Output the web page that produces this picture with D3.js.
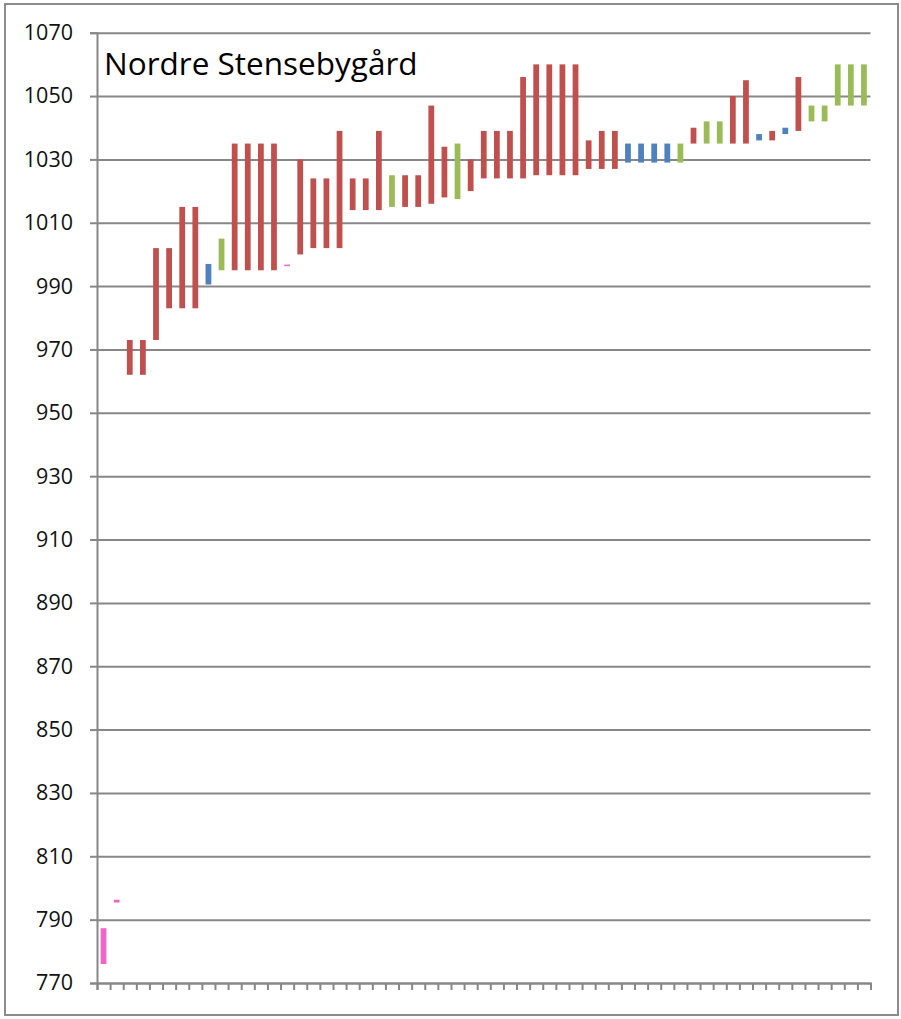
<!DOCTYPE html>
<html>
<head>
<meta charset="utf-8">
<script src="https://cdn.jsdelivr.net/npm/d3@7"></script>
<style>
  body { margin: 0; background: #fff; }
  svg text { font-family: "Open Sans", "Noto Sans", sans-serif; }
</style>
</head>
<body>
<div id="chart"></div>
<script>
// data: one floating bar per category (low .. high), coloured by series
var categories = d3.range(1, 60);
var lows  = [776, 795.4, 962, 962, 973, 983, 983, 983, 990.5, 995,
             995, 995, 995, 995, 996.3, 1000, 1002, 1002, 1002, 1014,
             1014, 1014, 1015, 1015, 1015, 1016, 1018, 1017.5, 1020, 1024,
             1024, 1024, 1024, 1025, 1025, 1025, 1025, 1027, 1027, 1027,
             1029, 1029, 1029, 1029, 1029, 1035, 1035, 1035, 1035, 1035,
             1036, 1036, 1038, 1039, 1042, 1042, 1047, 1047, 1047];
var highs = [787.3, 796.3, 973, 973, 1002, 1002, 1015, 1015, 997, 1005,
             1035, 1035, 1035, 1035, 996.8, 1030, 1024, 1024, 1039, 1024,
             1024, 1039, 1025, 1025, 1025, 1047, 1034, 1035, 1030, 1039,
             1039, 1039, 1056, 1060, 1060, 1060, 1060, 1036, 1039, 1039,
             1035, 1035, 1035, 1035, 1035, 1040, 1042, 1042, 1050, 1055,
             1038, 1039, 1040, 1056, 1047, 1047, 1060, 1060, 1060];
var series = ['p','p','r','r','r','r','r','r','b','g',
              'r','r','r','r','p','r','r','r','r','r',
              'r','r','g','r','r','r','r','g','r','r',
              'r','r','r','r','r','r','r','r','r','r',
              'b','b','b','b','g','r','g','g','r','r',
              'b','r','b','r','g','g','g','g','g'];
var series_colors = { r: '#C0504D', g: '#9BBB59', b: '#4F81BD', p: '#F066C8' };
var y_ticks = d3.range(770, 1071, 20);
var title = 'Nordre Stensebygård';

// SVG properties
var width = 901, height = 1019;
var plot_left = 97, plot_right = 870.5, plot_top = 32.7, plot_bottom = 983;
var grid_color = '#878787';

var svg = d3.select('#chart').append('svg')
    .attr('width', width)
    .attr('height', height);

// outer frame
svg.append('rect')
    .attr('x', 5).attr('y', 4)
    .attr('width', 893).attr('height', 1011)
    .attr('fill', 'none')
    .attr('stroke', '#8c8c8c')
    .attr('stroke-width', 2);

// scales
var scale_x = d3.scaleBand()
    .domain(categories)
    .range([plot_left, plot_right])
    .paddingInner(0.56)
    .paddingOuter(0.28);
var scale_tick = d3.scaleLinear()
    .domain([0, categories.length])
    .range([plot_left, plot_right]);
var scale_y = d3.scaleLinear()
    .domain([770, 1070])
    .range([plot_bottom, plot_top]);

// gridlines
var grid = svg.append('g')
    .attr('transform', 'translate(' + plot_left + ',0)')
    .call(d3.axisLeft(scale_y).tickValues(y_ticks)
        .tickSize(-(plot_right - plot_left)).tickFormat(''));
grid.select('.domain').remove();
grid.selectAll('line').attr('stroke', grid_color).attr('stroke-width', 2);

// y axis with outer ticks and labels
var y_axis = svg.append('g')
    .attr('transform', 'translate(' + plot_left + ',0)')
    .call(d3.axisLeft(scale_y).tickValues(y_ticks).tickSize(7).tickPadding(17)
        .tickFormat(d3.format('d')));
y_axis.select('.domain').attr('stroke', grid_color).attr('stroke-width', 2);
y_axis.selectAll('line').attr('stroke', grid_color).attr('stroke-width', 2);
y_axis.selectAll('text')
    .attr('font-size', 21.5)
    .attr('fill', '#111')
    .attr('font-family', '"Open Sans", sans-serif');

// x axis: tick marks at band edges, no labels
var x_axis = svg.append('g')
    .attr('transform', 'translate(0,' + plot_bottom + ')')
    .call(d3.axisBottom(scale_tick).tickValues(d3.range(0, categories.length + 1))
        .tickSize(7).tickFormat(''));
x_axis.select('.domain').attr('stroke', grid_color).attr('stroke-width', 2);
x_axis.selectAll('line').attr('stroke', grid_color).attr('stroke-width', 2);

// floating bars
svg.append('g').selectAll('rect')
    .data(categories)
    .enter()
    .append('rect')
    .attr('x', function(d) { return scale_x(d); })
    .attr('y', function(d, i) { return scale_y(highs[i]); })
    .attr('width', scale_x.bandwidth())
    .attr('height', function(d, i) { return scale_y(lows[i]) - scale_y(highs[i]); })
    .attr('fill', function(d, i) { return series_colors[series[i]]; });

// title
svg.append('text')
    .attr('x', 104)
    .attr('y', 75)
    .attr('font-size', 31.5)
    .attr('fill', '#000')
    .text(title);
</script>
</body>
</html>
